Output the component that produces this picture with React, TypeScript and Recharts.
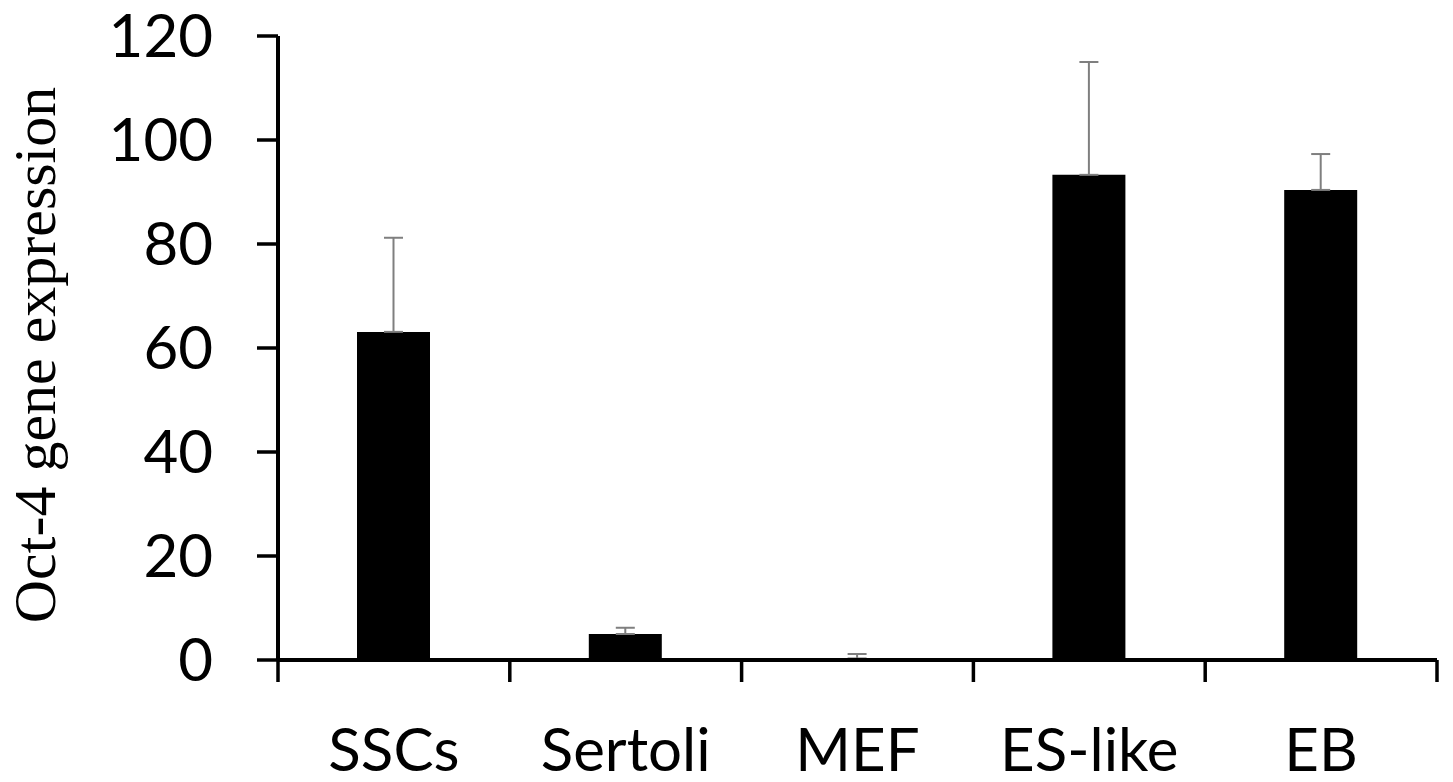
import React from "react";
import { BarChart, Bar, XAxis, YAxis, ErrorBar } from "recharts";

const CATEGORIES = ["SSCs", "Sertoli", "MEF", "ES-like", "EB"];
const MEANS = [63.1, 5.0, 0.3, 93.3, 90.4];
const ERRORS = [18.1, 1.2, 0.85, 21.7, 6.9];
const Y_TICKS = [0, 20, 40, 60, 80, 100, 120];

const data = CATEGORIES.map((name, i) => ({
  name,
  value: MEANS[i],
  err: [0, ERRORS[i]],
}));

const tickFont = { fontFamily: "Lato, 'Open Sans', sans-serif", fontSize: 60, fill: "#000" };

const YLabel = ({ viewBox }: any) => {
  const cx = viewBox.x + 55;
  const cy = viewBox.y + viewBox.height / 2 + 7;
  return (
    <text
      x={cx}
      y={cy}
      transform={`rotate(-90, ${cx}, ${cy})`}
      textAnchor="middle"
      style={{ fontFamily: "'Liberation Serif', 'Times New Roman', serif", fontSize: 60, fill: "#000" }}
    >
      Oct-4 gene expression
    </text>
  );
};

// category label plus tick marks on the category boundaries (Excel style)
const CatTick = ({ x, y, payload, index, visibleTicksCount }: any) => {
  const half = payload.offset ?? 0;
  const axisY = y - 22 - 46;
  return (
    <g>
      <line x1={x - half} x2={x - half} y1={axisY} y2={axisY + 22} stroke="#000" strokeWidth={3.5} />
      {index === visibleTicksCount - 1 && (
        <line x1={x + half} x2={x + half} y1={axisY} y2={axisY + 22} stroke="#000" strokeWidth={3.5} />
      )}
      <text x={x} y={y} dy="0.71em" textAnchor="middle" style={tickFont}>
        {payload.value}
      </text>
    </g>
  );
};

export default function App() {
  return (
    <div style={{ position: "absolute", left: 0, top: 0, background: "#fff" }}>
      <BarChart
        width={1453}
        height={782}
        data={data}
        margin={{ top: 36, right: 16, bottom: 0, left: 0 }}
      >
        <XAxis
          dataKey="name"
          height={122}
          axisLine={{ stroke: "#000", strokeWidth: 4 }}
          tickLine={false}
          tickSize={22}
          tickMargin={46}
          tick={<CatTick />}
          interval={0}
        />
        <YAxis
          width={278}
          domain={[0, 120]}
          ticks={Y_TICKS}
          tickSize={21}
          tickMargin={44}
          tick={tickFont}
          axisLine={{ stroke: "#000", strokeWidth: 4 }}
          tickLine={{ stroke: "#000", strokeWidth: 3.5 }}
          label={<YLabel />}
        />
        <Bar dataKey="value" fill="#000" barSize={73} isAnimationActive={false}>
          <ErrorBar dataKey="err" direction="y" width={9.5} stroke="#7f7f7f" strokeWidth={2} />
        </Bar>
      </BarChart>
    </div>
  );
}
